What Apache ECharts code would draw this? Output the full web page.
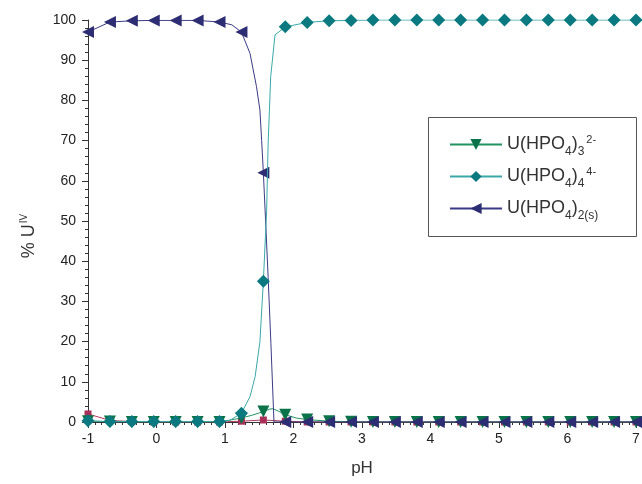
<!DOCTYPE html>
<html><head><meta charset="utf-8">
<script src="https://cdn.jsdelivr.net/npm/echarts@6/dist/echarts.min.js"></script>
<style>html,body{margin:0;padding:0;background:#fff}#c{width:642px;height:484px}</style>
</head><body><div id="c"></div>
<script>
// pH values where markers are drawn
const markerPH = [-1,-0.68,-0.36,-0.04,0.28,0.6,0.92,1.24,1.56,1.88,2.2,2.52,2.84,3.16,3.48,3.8,4.12,4.44,4.76,5.08,5.4,5.72,6.04,6.36,6.68,7];
const tail = [2.2,2.52,2.84,3.16,3.48,3.8,4.12,4.44,4.76,5.08,5.4,5.72,6.04,6.36,6.68,7];

// U(HPO4)2(s)
const navyPH  = [-1,-0.68,-0.36,-0.04,0.28,0.6,0.92,1.1,1.24,1.365,1.46,1.51,1.535,1.56,1.594,1.63,1.67,1.715,1.88].concat(tail);
const navyVal = [97,99.5,99.8,99.9,99.9,99.9,99.5,98.8,97,91.7,83.4,77.6,70,62,49.5,36,19.6,0,0, 0,0,0,0,0,0,0,0,0,0,0,0,0,0,0,0];

// U(HPO4)4 4-
const tealPH  = [-1,-0.68,-0.36,-0.04,0.28,0.6,0.92,1.07,1.24,1.365,1.44,1.51,1.56,1.608,1.63,1.667,1.73,1.88].concat(tail);
const tealVal = [0.3,0.1,0.1,0.1,0.1,0.1,0.1,0.4,2.2,6.3,11.3,20,35,52.7,69.4,85.9,96.3,98.3, 99.4,99.8,99.9,100,100,100,100,100,100,100,100,100,100,100,100,100];

// U(HPO4)3 2-
const greenPH  = [-1,-0.68,-0.36,-0.04,0.28,0.6,0.92,1.24,1.4,1.56,1.65,1.70,1.78,1.88,2.04].concat(tail);
const greenVal = [0.2,0.1,0,0,0,0,0,1.0,1.7,2.6,3.2,3.3,2.7,1.8,1.0, 0.6,0.2,0.05,0,0,0,0,0,0,0,0,0,0,0,0,0];

// 4th species (no legend entry)
const redPH  = [-1,-0.68,-0.36,-0.04,0.28,0.6,0.92,1.24,1.56,1.88].concat(tail);
const redVal = [2.0,0.4,0.1,0,0,0,0,0.2,0.5,0.2, 0,0,0,0,0,0,0,0,0,0,0,0,0,0,0,0];

const xTicks = [-1,0,1,2,3,4,5,6,7];
const yTicks = [0,10,20,30,40,50,60,70,80,90,100];

function pts(xs, ys){
  return xs.map((x,i)=>{
    const o = {value:[x, ys[i]]};
    if (!markerPH.some(m=>Math.abs(m-x)<1e-9)) o.symbol = 'none';
    return o;
  });
}

const legendRich = {
  g: '{m|U(HPO}{s|4}{m|)}{s|3}{p|2-}',
  t: '{m|U(HPO}{s|4}{m|)}{s|4}{p|4-}',
  n: '{m|U(HPO}{s|4}{m|)}{s|2(s)}'
};

const chart = echarts.init(document.getElementById('c'), null, {renderer:'canvas'});
const font = 'Liberation Sans, Arial, Helvetica, sans-serif';
chart.setOption({
  animation: false,
  backgroundColor: '#fff',
  textStyle: {fontFamily: font},
  grid: {left: 88, right: 6, top: 20, bottom: 62, containLabel: false, outerBoundsMode: 'none'},
  xAxis: {
    type: 'value', min: xTicks[0], max: xTicks[xTicks.length-1], interval: 1,
    name: 'pH', nameLocation: 'middle', nameGap: 38,
    nameTextStyle: {fontSize: 17, color: '#333', fontFamily: font},
    axisLine: {onZero: false, lineStyle: {color: '#333', width: 1}},
    axisTick: {show: true, inside: false, length: 6, lineStyle: {color: '#333'}},
    minorTick: {show: true, splitNumber: 10, length: 3, lineStyle: {color: '#333'}},
    splitLine: {show: false},
    axisLabel: {fontSize: 14, color: '#222', margin: 10, fontFamily: font}
  },
  yAxis: {
    type: 'value', min: yTicks[0], max: yTicks[yTicks.length-1], interval: 10,
    axisLine: {show: true, onZero: false, lineStyle: {color: '#333', width: 1}},
    axisTick: {show: true, inside: false, length: 6, lineStyle: {color: '#333'}},
    minorTick: {show: true, splitNumber: 5, length: 3, lineStyle: {color: '#333'}},
    splitLine: {show: false},
    axisLabel: {fontSize: 14, color: '#222', margin: 12, fontFamily: font}
  },
  legend: {
    show: true, orient: 'vertical', left: 449, top: 131,
    data: ['g','t','n'],
    itemWidth: 52, itemHeight: 14, itemGap: 5,
    padding: 0,
    formatter: name => legendRich[name],
    textStyle: {fontFamily: font, color: '#333', rich: {
      m: {fontSize: 18, color: '#333', fontFamily: font, lineHeight: 28, verticalAlign: 'middle'},
      s: {fontSize: 12, color: '#333', fontFamily: font, lineHeight: 12, verticalAlign: 'middle', padding: [15,0,0,0]},
      p: {fontSize: 11, color: '#333', fontFamily: font, lineHeight: 11, verticalAlign: 'middle', padding: [0,0,10,2]}
    }}
  },
  graphic: [
    {type: 'rect', shape: {x: 428.5, y: 117.5, width: 208, height: 119},
     style: {fill: 'none', stroke: '#555', lineWidth: 1}, z: 100, silent: true},
    {type: 'text', x: 27, y: 236, rotation: Math.PI/2, silent: true,
     style: {text: '{m|% U}{p|IV}', align: 'center', verticalAlign: 'middle',
       rich: {
         m: {fontSize: 18, fill: '#333', fontFamily: font, lineHeight: 22, verticalAlign: 'bottom'},
         p: {fontSize: 10, fill: '#333', fontFamily: font, lineHeight: 22, verticalAlign: 'bottom', padding: [0,0,9,1]}
       }}}
  ],
  series: [
    {name: 'r', type: 'line', data: pts(redPH, redVal), symbol: 'rect', symbolSize: 7,
     lineStyle: {color: '#b03a5e', width: 1}, itemStyle: {color: '#a8305a'}, z: 2},
    {name: 'g', type: 'line', data: pts(greenPH, greenVal), symbol: 'triangle', symbolRotate: 180, symbolSize: 12,
     lineStyle: {color: '#1f9460', width: 1}, itemStyle: {color: '#0a7349'}, z: 3},
    {name: 'n', type: 'line', data: pts(navyPH, navyVal), symbol: 'triangle', symbolRotate: 90, symbolSize: 12,
     lineStyle: {color: '#3a3b85', width: 1}, itemStyle: {color: '#2c2d72'}, z: 4},
    {name: 't', type: 'line', data: pts(tealPH, tealVal), symbol: 'diamond', symbolSize: 13,
     lineStyle: {color: '#3aa8a8', width: 1}, itemStyle: {color: '#0a7a80'}, z: 5}
  ]
});
</script>
</body></html>
